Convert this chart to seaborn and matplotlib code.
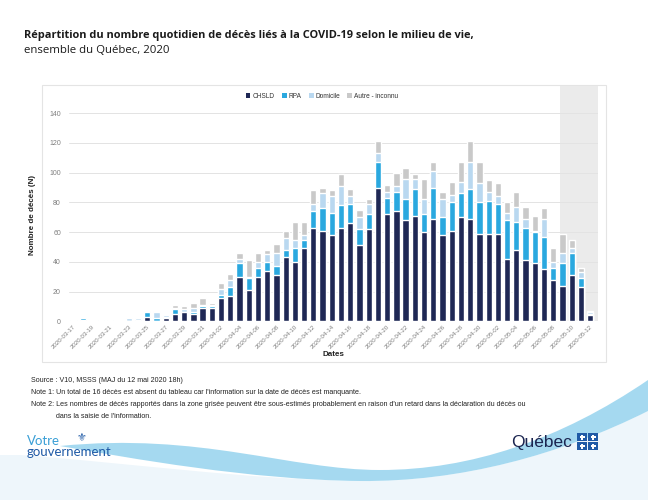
import numpy as np
import pandas as pd
import matplotlib
matplotlib.use("Agg")
import matplotlib.pyplot as plt
import seaborn as sns
from matplotlib.patches import Rectangle, PathPatch, Patch
from matplotlib.path import Path

# ---------------- data ----------------
dates = pd.date_range("2020-03-17", "2020-05-12").strftime("%Y-%m-%d").tolist()
chsld = [0, 1, 0, 0, 0, 0, 0, 1, 3, 0, 2, 5, 6, 5, 9, 9, 16, 17, 30, 21,
         30, 34, 31, 43, 40, 49, 63, 61, 58, 63, 66, 51, 62, 90, 72, 74, 68, 71, 60, 69,
         58, 61, 70, 69, 59, 59, 59, 42, 48, 41, 39, 35, 28, 24, 31, 23, 4]
rpa = [1, 1, 0, 1, 1, 0, 0, 0, 3, 2, 1, 3, 0, 1, 1, 1, 2, 6, 9, 8,
       6, 6, 6, 5, 9, 6, 11, 15, 15, 15, 13, 11, 10, 17, 11, 13, 14, 18, 12, 21,
       12, 19, 16, 20, 21, 22, 20, 26, 19, 22, 21, 22, 8, 15, 15, 6, 1]
domicile = [0, 0, 0, 0, 0, 0, 2, 1, 1, 4, 1, 1, 2, 3, 1, 1, 4, 5, 3, 1,
            4, 5, 9, 8, 6, 3, 5, 10, 11, 13, 5, 8, 7, 6, 4, 4, 14, 7, 10, 11,
            12, 5, 8, 18, 13, 6, 5, 5, 10, 6, 1, 12, 4, 7, 3, 4, 1]
autre = [0, 0, 0, 0, 0, 0, 0, 0, 0, 1, 0, 2, 2, 3, 5, 1, 4, 4, 4, 11,
         6, 3, 6, 5, 12, 9, 9, 4, 4, 8, 5, 5, 3, 8, 5, 9, 7, 3, 14, 6,
         5, 9, 13, 14, 14, 8, 9, 7, 10, 8, 10, 7, 9, 13, 6, 3, 1]
series_names = ["CHSLD", "RPA", "Domicile", "Autre - inconnu"]
colors = ["#1f2855", "#2aa8df", "#b9d8f0", "#c9c9c9"]
yticks = [0, 20, 40, 60, 80, 100, 120, 140]

df = pd.DataFrame({"date": dates, "CHSLD": chsld, "RPA": rpa,
                   "Domicile": domicile, "Autre - inconnu": autre})
cum = df[series_names].cumsum(axis=1)
cum["date"] = df["date"]

# ---------------- figure ----------------
sns.set_theme(style="white")
plt.rcParams["font.family"] = ["Liberation Sans", "DejaVu Sans"]

W, H = 648, 500
fig = plt.figure(figsize=(W / 100, H / 100), dpi=100)
fig.patch.set_facecolor("white")

# background decoration axes (pixel coords)
bg = fig.add_axes([0, 0, 1, 1], zorder=-5)
bg.set_xlim(0, W)
bg.set_ylim(H, 0)
bg.axis("off")

# light blue lower area and swoosh band
verts = [(0, 500), (648, 500), (648, 411),
         (560, 455), (460, 482), (360, 481),
         (250, 480), (120, 462), (20, 455), (0, 455), (0, 500)]
codes = [Path.MOVETO, Path.LINETO, Path.LINETO,
         Path.CURVE4, Path.CURVE4, Path.CURVE4,
         Path.CURVE4, Path.CURVE4, Path.CURVE4, Path.LINETO, Path.CLOSEPOLY]
bg.add_patch(PathPatch(Path(verts, codes), facecolor="#eef6fb", edgecolor="none"))

band = [(60, 446), (200, 432), (290, 470), (380, 470),
        (470, 470), (560, 440), (648, 380),
        (648, 411),
        (560, 455), (460, 482), (360, 481),
        (250, 480), (130, 458), (60, 446)]
bcodes = [Path.MOVETO, Path.CURVE4, Path.CURVE4, Path.CURVE4,
          Path.CURVE4, Path.CURVE4, Path.CURVE4,
          Path.LINETO,
          Path.CURVE4, Path.CURVE4, Path.CURVE4,
          Path.CURVE4, Path.CURVE4, Path.CURVE4]
bg.add_patch(PathPatch(Path(band, bcodes), facecolor="#95d3ee", edgecolor="none", alpha=0.85))

# chart panel frame
bg.add_patch(Rectangle((42, 85), 564, 277, facecolor="white", edgecolor="#e4e4e4", lw=0.8))

# ---------------- main axes ----------------
left, right = 69.3 / W, 598 / W
bottom, top = 1 - 321.3 / H, 1 - 86 / H
ax = fig.add_axes([left, bottom, right - left, top - bottom])
ax.set_facecolor("none")

order = dates
layer_cols = ["Autre - inconnu", "Domicile", "RPA", "CHSLD"]
layer_colors = [colors[3], colors[2], colors[1], colors[0]]
for col, c in zip(layer_cols, layer_colors):
    sns.barplot(data=cum, x="date", y=col, order=order, color=c,
                saturation=1, width=0.68, ax=ax, zorder=3)

ax.axvspan(52.7, 57.2, color="#ebebeb", zorder=0, lw=0)
ax.set_xlim(-0.45, 56.85)
ax.set_ylim(0, 158.3)
ax.set_yticks(yticks)
ax.set_yticklabels([str(v) for v in yticks])
ax.yaxis.grid(True, color="#e3e3e3", lw=0.7, zorder=1)
ax.set_axisbelow(True)
for s in ax.spines.values():
    s.set_visible(False)
ax.tick_params(axis="both", length=0, colors="#7f7f7f", labelsize=5)
ax.tick_params(axis="x", labelsize=4.4, pad=2)
ax.tick_params(axis="y", pad=6)
xt = list(range(0, len(dates), 2))
ax.set_xticks(xt)
ax.set_xticklabels([dates[i] for i in xt], rotation=45, ha="right",
                   rotation_mode="anchor")
ax.set_xlabel("")
ax.set_ylabel("")

fig.text(33 / W, 1 - 215 / H, "Nombre de décès (N)", rotation=90, ha="center",
         va="center", fontsize=5.8, fontweight="bold", color="#222222")
fig.text(333 / W, 1 - 354 / H, "Dates", ha="center", va="center",
         fontsize=5.8, fontweight="bold", color="#222222")

handles = [Patch(facecolor=c, edgecolor="none") for c in colors]
fig.legend(handles, series_names, loc="center", bbox_to_anchor=(322 / W, 1 - 96.5 / H),
           ncol=4, frameon=False, fontsize=4.7, handlelength=0.75, handleheight=0.75,
           handletextpad=0.3, columnspacing=1.1, labelcolor="#333333")

# ---------------- titles ----------------
fig.text(24 / W, 1 - 35.5 / H,
         "Répartition du nombre quotidien de décès liés à la COVID-19 selon le milieu de vie,",
         ha="left", va="center", fontsize=7.9, fontweight="bold", color="#1a1a1a",
         family=["Open Sans", "DejaVu Sans"])
fig.text(24 / W, 1 - 50.5 / H, "ensemble du Québec, 2020",
         ha="left", va="center", fontsize=8.2, color="#1a1a1a",
         family=["Open Sans", "DejaVu Sans"])

# ---------------- notes ----------------
note_kw = dict(ha="left", va="center", fontsize=5.15, color="#222222")
fig.text(31 / W, 1 - 381 / H, "Source : V10, MSSS (MAJ du 12 mai 2020 18h)", **note_kw)
fig.text(31 / W, 1 - 393 / H,
         "Note 1: Un total de 16 décès est absent du tableau car l'information sur la date de décès est manquante.",
         **note_kw)
fig.text(31 / W, 1 - 405 / H,
         "Note 2: Les nombres de décès rapportés dans la zone grisée peuvent être sous-estimés probablement en raison d'un retard dans la déclaration du décès ou",
         **note_kw)
fig.text(56 / W, 1 - 417 / H, "dans la saisie de l'information.", **note_kw)

# ---------------- logos ----------------
fig.text(27 / W, 1 - 441 / H, "Votre", ha="left", va="center", fontsize=9.5,
         color="#3a9fd6", family=["Lato", "DejaVu Sans"])
fig.text(27 / W, 1 - 452 / H, "gouvernement", ha="left", va="center", fontsize=9.5,
         color="#1f5aa6", family=["Lato", "DejaVu Sans"])
fig.text(82 / W, 1 - 438 / H, "⚜", ha="center", va="center", fontsize=8,
         color="#1f5aa6", family=["DejaVu Sans"])

fig.text(572 / W, 1 - 442 / H, "Québec", ha="right", va="center", fontsize=12.5,
         color="#1b2550", family=["Liberation Sans", "DejaVu Sans"])
for (fx, fy) in [(577, 433), (588, 433), (577, 442), (588, 442)]:
    bg.add_patch(Rectangle((fx, fy), 10, 8, facecolor="#1f5aa6", edgecolor="none"))
    bg.add_patch(Rectangle((fx + 4.2, fy + 1.5), 1.6, 5, facecolor="white", edgecolor="none"))
    bg.add_patch(Rectangle((fx + 2.5, fy + 3.2), 5, 1.6, facecolor="white", edgecolor="none"))

fig.savefig("out.png", dpi=100)
